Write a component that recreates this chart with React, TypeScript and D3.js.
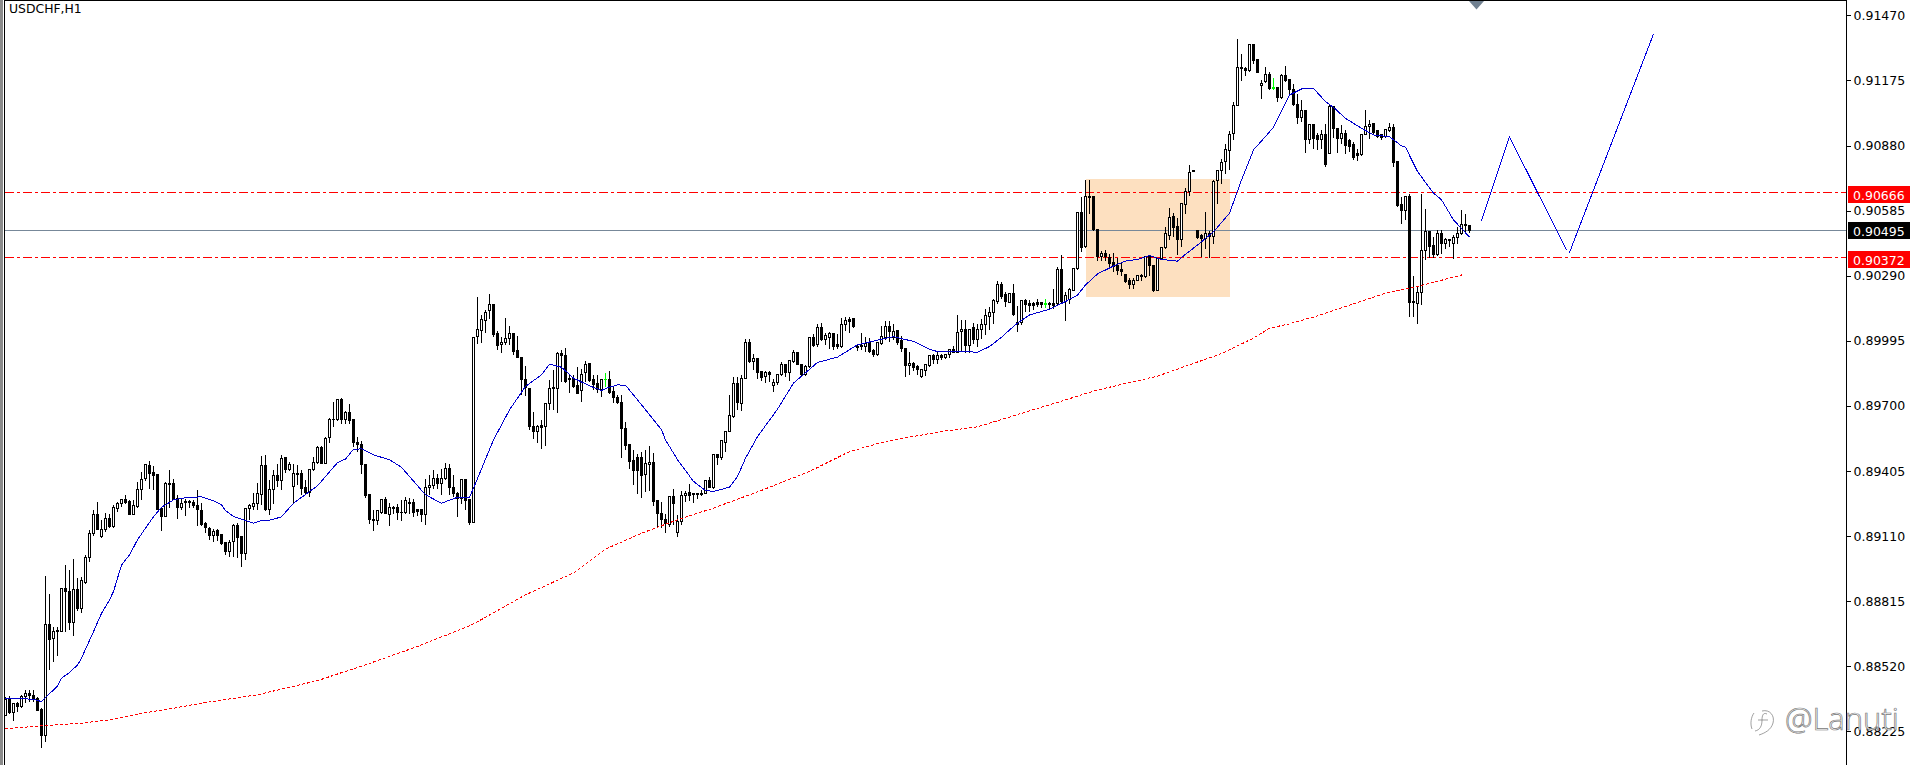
import React, { useEffect, useRef } from 'react'
import * as d3 from 'd3'

// prices are kept in points: 88297 means 0.88297
const opens = [
  88297,88374,88311,88353,88338,88383,88398,88389,88375,88323,
  88206,88711,88646,88677,88677,88874,88859,88718,88866,88780,
  88902,89014,89120,89210,89108,89141,89191,89153,89236,89256,
  89274,89266,89207,89244,89322,89369,89432,89398,89387,89236,
  89198,89349,89349,89281,89239,89266,89266,89263,89247,89225,
  89166,89146,89111,89134,89116,89081,89040,89086,89157,89108,
  89033,89235,89244,89256,89300,89428,89232,89320,89383,89360,
  89466,89410,89335,89395,89392,89332,89308,89410,89444,89513,
  89440,89557,89637,89637,89727,89637,89672,89637,89536,89524,
  89433,89300,89187,89181,89217,89274,89208,89235,89241,89219,
  89217,89264,89262,89229,89229,89206,89330,89338,89370,89347,
  89371,89418,89332,89305,89282,89365,89274,89172,90014,90042,
  90087,90131,90158,90026,89978,89987,90005,90026,89949,89921,
  89821,89780,89607,89584,89610,89607,89712,89785,89780,89936,
  89930,89818,89826,89791,89770,89851,89891,89818,89800,89773,
  89818,89818,89765,89740,89717,89599,89524,89453,89468,89468,
  89388,89436,89445,89270,89214,89187,89161,89290,89127,89176,
  89293,89309,89302,89302,89302,89305,89362,89332,89478,89466,
  89534,89584,89652,89803,89712,89826,89989,89901,89913,89854,
  89833,89853,89791,89806,89844,89889,89853,89901,89940,89889,
  89841,89878,90008,89977,90057,89999,90010,90026,89977,89969,
  90069,90090,90094,89969,89972,89969,89987,89949,89931,89983,
  90011,90061,90011,90040,89996,89962,89883,89894,89878,89833,
  89860,89882,89927,89912,89927,89919,89931,89957,89943,90037,
  90048,89972,90055,90002,90048,90067,90105,90125,90173,90248,
  90203,90170,90211,90070,90078,90176,90162,90162,90168,90167,
  90162,90162,90165,90165,90320,90172,90180,90225,90323,90577,
  90421,90651,90651,90501,90376,90391,90372,90350,90334,90316,
  90296,90267,90248,90267,90289,90286,90376,90338,90225,90369,
  90418,90474,90557,90512,90456,90613,90671,90767,90497,90471,
  90459,90482,90467,90720,90766,90807,90857,90933,91062,91235,
  91230,91219,91336,91268,91153,91170,91200,91142,91144,91097,
  91195,91177,91135,91068,91007,91037,90908,90973,90925,90905,
  90928,90845,91056,90958,90911,90936,90901,90883,90845,90837,
  90931,90966,90978,90946,90928,90920,90948,90961,90807,90611,
  90585,90649,90172,90165,90215,90403,90489,90425,90384,90480,
  90437,90452,90437,90464,90483,90523,90519,
]
const highs = [
  88383,88386,88353,88360,88394,88413,88413,88413,88383,88335,
  88930,88848,88700,88700,88874,88982,88957,89010,88924,88927,
  89028,89138,89229,89269,89183,89218,89213,89251,89269,89281,
  89297,89274,89278,89357,89402,89440,89451,89432,89390,89236,
  89357,89413,89372,89300,89281,89281,89277,89274,89319,89264,
  89176,89154,89146,89146,89116,89081,89096,89169,89172,89108,
  89237,89256,89309,89353,89475,89478,89365,89410,89440,89478,
  89471,89448,89440,89436,89410,89365,89418,89471,89521,89519,
  89561,89647,89720,89735,89739,89679,89712,89637,89561,89542,
  89433,89300,89229,89226,89282,89289,89262,89247,89256,89274,
  89289,89285,89282,89237,89237,89373,89388,89413,89395,89418,
  89445,89440,89388,89312,89368,89368,89278,90014,90196,90113,
  90138,90208,90158,90040,90014,90102,90063,90029,90017,89921,
  89882,89780,89675,89614,89637,89717,89818,89866,89946,89954,
  89966,89841,89841,89878,89871,89904,89894,89844,89841,89826,
  89851,89859,89788,89750,89753,89629,89531,89501,89486,89493,
  89501,89519,89489,89278,89267,89214,89293,89327,89207,89317,
  89317,89350,89308,89308,89323,89365,89380,89483,89486,89546,
  89587,89750,89833,89833,89841,90007,90007,89936,89916,89854,
  89860,89860,89826,89848,89901,89894,89909,89954,89946,89894,
  89886,90011,90029,90075,90078,90033,90037,90033,90029,90100,
  90105,90105,90094,89977,90033,90014,90011,89962,89992,90063,
  90085,90087,90072,90045,90017,89962,89946,89901,89889,89871,
  89891,89931,89939,89946,89936,89936,89957,89972,90112,90090,
  90090,90052,90078,90075,90097,90143,90150,90188,90266,90263,
  90218,90214,90256,90153,90180,90185,90183,90173,90188,90173,
  90185,90173,90233,90331,90388,90218,90236,90328,90580,90651,
  90728,90728,90651,90504,90406,90409,90391,90394,90373,90349,
  90296,90282,90281,90290,90301,90379,90388,90343,90373,90421,
  90512,90598,90577,90554,90618,90690,90794,90767,90500,90479,
  90583,90494,90728,90772,90822,90890,90948,91079,91363,91295,
  91238,91343,91336,91268,91180,91238,91215,91189,91147,91207,
  91241,91182,91159,91114,91087,91041,90981,90973,90939,90951,
  90978,91064,91059,90961,90976,90954,90913,90898,90868,90933,
  91041,90999,90981,90954,90936,90958,90984,90981,90807,90649,
  90652,90661,90289,90244,90661,90596,90489,90467,90501,90498,
  90464,90460,90475,90513,90588,90570,90519,
]
const lows = [
  88297,88304,88274,88315,88335,88356,88360,88360,88320,88152,
  88179,88507,88542,88569,88677,88677,88685,88658,88773,88764,
  88896,88993,89111,89140,89105,89130,89150,89150,89221,89244,
  89256,89207,89207,89241,89278,89364,89324,89322,89229,89135,
  89198,89241,89278,89188,89229,89203,89241,89239,89156,89158,
  89126,89096,89086,89090,89072,89025,89018,89018,89015,88972,
  89003,89187,89229,89232,89252,89226,89206,89256,89335,89320,
  89398,89407,89262,89342,89297,89297,89289,89407,89440,89440,
  89437,89534,89607,89634,89622,89622,89622,89516,89493,89392,
  89286,89169,89135,89161,89214,89211,89158,89211,89184,89181,
  89214,89214,89199,89202,89176,89161,89297,89327,89327,89297,
  89365,89297,89289,89199,89259,89229,89161,89172,89984,89987,
  90033,90097,90014,89957,89942,89977,89980,89931,89919,89750,
  89747,89592,89554,89534,89507,89521,89682,89685,89670,89811,
  89806,89761,89785,89755,89720,89811,89811,89773,89761,89743,
  89788,89755,89715,89709,89468,89501,89418,89345,89305,89287,
  89312,89317,89247,89151,89151,89127,89154,89161,89108,89161,
  89267,89271,89262,89282,89293,89302,89332,89327,89433,89456,
  89493,89584,89649,89685,89679,89823,89898,89863,89826,89815,
  89806,89811,89765,89795,89838,89833,89815,89898,89886,89836,
  89836,89875,89969,89969,89996,89977,89962,89957,89962,89966,
  90042,90033,90057,89951,89954,89946,89943,89924,89927,89980,
  89999,89992,89999,89977,89946,89833,89841,89860,89841,89830,
  89836,89878,89894,89894,89909,89916,89921,89943,89943,89946,
  89943,89943,89981,89969,90007,90022,90044,90075,90165,90188,
  90150,90168,90108,90037,90067,90128,90128,90135,90150,90147,
  90147,90143,90143,90160,90165,90087,90165,90222,90320,90399,
  90418,90572,90497,90361,90361,90361,90326,90308,90295,90293,
  90258,90233,90233,90266,90267,90282,90293,90218,90222,90369,
  90415,90456,90467,90387,90421,90572,90655,90760,90459,90379,
  90414,90373,90437,90618,90709,90754,90769,90905,91059,91174,
  91195,91215,91253,91210,91091,91167,91132,91132,91079,91093,
  91170,91105,91062,90981,90988,90848,90887,90865,90860,90868,
  90785,90842,90916,90850,90887,90845,90853,90815,90812,90834,
  90928,90913,90936,90917,90905,90917,90943,90785,90603,90525,
  90543,90105,90105,90075,90158,90365,90374,90374,90381,90392,
  90412,90422,90368,90437,90475,90490,90486,
]
const closes = [
  88368,88311,88353,88338,88383,88398,88388,88371,88320,88206,
  88711,88643,88679,88680,88874,88859,88718,88866,88780,88907,
  89014,89123,89210,89140,89141,89191,89153,89241,89256,89274,
  89262,89207,89247,89319,89368,89435,89395,89384,89229,89198,
  89349,89345,89278,89239,89259,89262,89260,89248,89232,89164,
  89148,89111,89132,89111,89075,89040,89081,89157,89105,89033,
  89237,89247,89259,89302,89428,89229,89323,89383,89360,89463,
  89410,89433,89392,89388,89327,89308,89413,89445,89511,89440,
  89554,89637,89640,89727,89637,89672,89632,89536,89524,89433,
  89293,89187,89181,89226,89274,89211,89241,89240,89219,89216,
  89271,89256,89217,89222,89206,89332,89339,89370,89347,89373,
  89418,89332,89302,89282,89365,89271,89172,90011,90045,90093,
  90125,90161,90022,89972,89989,90007,90029,89946,89919,89818,
  89783,89607,89584,89605,89602,89712,89780,89777,89936,89928,
  89811,89826,89788,89758,89844,89889,89815,89795,89773,89818,
  89819,89761,89738,89715,89599,89521,89448,89407,89407,89383,
  89438,89445,89267,89211,89184,89166,89290,89259,89176,89293,
  89305,89294,89297,89300,89300,89362,89332,89478,89468,89542,
  89584,89655,89803,89715,89826,89989,89901,89913,89851,89830,
  89853,89844,89806,89844,89889,89851,89904,89943,89889,89844,
  89878,90008,89972,90057,89999,90017,90026,89969,89969,90070,
  90085,90082,90060,89963,89968,89984,89946,89931,89987,90014,
  90061,90037,90037,89987,89960,89882,89894,89875,89866,89863,
  89886,89927,89909,89927,89919,89931,89957,89943,90034,90048,
  89972,90048,90002,90048,90067,90108,90125,90176,90248,90195,
  90173,90211,90112,90078,90176,90161,90156,90155,90161,90161,
  90159,90159,90155,90320,90172,90202,90228,90323,90577,90418,
  90651,90643,90501,90376,90391,90376,90346,90331,90313,90308,
  90263,90248,90270,90289,90286,90376,90334,90225,90369,90418,
  90482,90554,90507,90455,90615,90671,90758,90760,90464,90459,
  90482,90467,90719,90766,90803,90863,90931,91062,91235,91229,
  91219,91336,91265,91212,91162,91200,91139,91139,91097,91195,
  91174,91132,91068,91007,91037,90908,90973,90913,90905,90928,
  90792,91056,90958,90913,90936,90878,90875,90825,90833,90928,
  90966,90976,90940,90920,90917,90951,90961,90803,90608,90585,
  90649,90169,90169,90215,90403,90489,90422,90384,90480,90437,
  90452,90448,90464,90483,90523,90517,90495,
]
const greenBars = [150, 260, 317]

const fastBars = [0,7,9,13,14,16,18,19,22,24,26,27,29,31,33,35,37,39,42,45,49,52,54,55,57,60,62,64,66,69,70,72,76,78,83,85,87,89,92,96,99,101,105,109,113,116,117,122,126,130,134,136,139,142,146,149,151,153,155,159,161,164,165,168,172,175,177,181,183,185,188,193,197,203,208,213,219,222,227,231,233,240,243,246,249,251,253,256,261,265,268,270,273,277,280,283,286,289,293,295,298,302,306,309,312,315,317,321,324,327,330,332,335,339,342,346,349,350,353,357,359,362,366]
const fastValues = [88375,88371,88360,88431,88466,88492,88526,88557,88677,88760,88821,88859,88979,89025,89093,89146,89198,89241,89274,89284,89288,89270,89252,89226,89199,89181,89169,89181,89182,89197,89218,89259,89312,89338,89443,89459,89504,89505,89478,89456,89422,89380,89297,89259,89286,89287,89327,89546,89682,89788,89841,89889,89875,89826,89791,89770,89785,89795,89794,89705,89660,89592,89546,89456,89358,89317,89312,89332,89380,89463,89561,89685,89803,89897,89921,89977,90002,90014,89992,89957,89946,89946,89943,89969,90011,90044,90075,90112,90138,90173,90202,90248,90298,90334,90356,90364,90381,90364,90356,90387,90429,90489,90573,90724,90860,90921,90963,91109,91136,91139,91079,91053,91003,90958,90928,90920,90878,90872,90762,90664,90634,90543,90465]

const slowBars = [0,9,19,27,34,42,49,63,78,91,103,116,119,130,142,150,159,168,177,189,201,211,220,234,243,273,288,304,312,316,321,328,337,345,353,360,365]
const slowValues = [88237,88250,88262,88280,88307,88330,88353,88391,88455,88533,88610,88703,88732,88844,88943,89051,89123,89184,89237,89317,89403,89493,89539,89584,89605,89772,89835,89937,90007,90052,90072,90108,90162,90211,90241,90274,90298]

// hand drawn projection in two strokes, the bars run on past the last candle
const trendDownBars = [369, 376, 390.25]
const trendDownValues = [90539, 90919, 90407]
const trendUpBars = [391, 412]
const trendUpValues = [90395, 91385]

const zoneBars = [270, 306]
const zoneValues = [90728, 90193]

const levelValues = [90666, 90372]
const bidValue = 90495
const tickValues = [91470,91175,90880,90585,90290,89995,89700,89405,89110,88815,88520,88225]

export default function App() {
  const svgRef = useRef<SVGSVGElement>(null)

  useEffect(() => {
    if (!svgRef.current) return
    const svg = d3.select(svgRef.current)
    svg.selectAll('*').remove()

    const width = 1913
    const height = 765
    const plotLeft = 4
    const plotRight = 1846

    const x = d3.scaleLinear().domain([0, 412]).range([5.5, 1653.5])
    const y = d3.scaleLinear().domain([91470, 88225]).range([15.3, 731.4])
    const py = (v: number) => Math.floor(y(v)) + 0.5

    svg.append('rect').attr('width', width).attr('height', height).attr('fill', 'white')

    // left window edge and frame
    svg.append('rect').attr('x', 0).attr('y', 0).attr('width', 3).attr('height', height).attr('fill', '#8c8c8c')
    svg.append('g').attr('shape-rendering', 'crispEdges').call((g) => {
      g.append('line').attr('x1', plotLeft + 0.5).attr('x2', plotLeft + 0.5).attr('y1', 0).attr('y2', height).attr('stroke', 'black')
      g.append('line').attr('x1', plotLeft).attr('x2', plotRight).attr('y1', 0.5).attr('y2', 0.5).attr('stroke', 'black')
    })

    svg.append('rect')
      .attr('x', Math.round(x(zoneBars[0])))
      .attr('width', Math.round(x(zoneBars[1]) - x(zoneBars[0])))
      .attr('y', Math.round(y(zoneValues[0])))
      .attr('height', Math.round(y(zoneValues[1]) - y(zoneValues[0])))
      .attr('fill', '#fde0c0')

    // horizontal levels
    const levels = svg.append('g').attr('shape-rendering', 'crispEdges')
    levels.selectAll('line.level')
      .data(levelValues)
      .join('line')
      .attr('class', 'level')
      .attr('x1', plotLeft + 1)
      .attr('x2', plotRight)
      .attr('y1', (d) => py(d))
      .attr('y2', (d) => py(d))
      .attr('stroke', '#ff0000')
      .attr('stroke-dasharray', '9 3 3 3')
    levels.append('line')
      .attr('x1', plotLeft + 1)
      .attr('x2', plotRight)
      .attr('y1', py(bidValue))
      .attr('y2', py(bidValue))
      .attr('stroke', '#778899')

    // candles
    const candles = svg.append('g').attr('shape-rendering', 'crispEdges')
    const bars = d3.range(opens.length)
    const barColor = (i: number) => (greenBars.includes(i) ? '#00ff00' : 'black')
    const isFlat = (i: number) => py(opens[i]) === py(closes[i])
    candles.selectAll('line.wick')
      .data(bars)
      .join('line')
      .attr('class', 'wick')
      .attr('x1', (i) => x(i))
      .attr('x2', (i) => x(i))
      .attr('y1', (i) => py(highs[i]))
      .attr('y2', (i) => py(lows[i]))
      .attr('stroke', barColor)
    candles.selectAll('rect.body')
      .data(bars.filter((i) => !isFlat(i)))
      .join('rect')
      .attr('class', 'body')
      .attr('x', (i) => x(i) - 1)
      .attr('width', 2)
      .attr('y', (i) => py(Math.max(opens[i], closes[i])))
      .attr('height', (i) => py(Math.min(opens[i], closes[i])) - py(Math.max(opens[i], closes[i])))
      .attr('fill', (i) => (closes[i] > opens[i] ? 'white' : 'black'))
      .attr('stroke', barColor)
    candles.selectAll('line.flat')
      .data(bars.filter(isFlat))
      .join('line')
      .attr('class', 'flat')
      .attr('x1', (i) => x(i) - 1.5)
      .attr('x2', (i) => x(i) + 1.5)
      .attr('y1', (i) => py(closes[i]))
      .attr('y2', (i) => py(closes[i]))
      .attr('stroke', barColor)

    // moving averages and the projection
    const priceLine = d3.line<number[]>().x((d) => x(d[0])).y((d) => y(d[1]))
    const pairs = (a: number[], b: number[]) => a.map((v, i) => [v, b[i]])
    svg.append('path')
      .attr('d', priceLine(pairs(slowBars, slowValues)))
      .attr('fill', 'none')
      .attr('stroke', '#ff0000')
      .attr('stroke-dasharray', '3 2')
      .attr('shape-rendering', 'crispEdges')
    svg.append('path')
      .attr('d', priceLine(pairs(fastBars, fastValues)))
      .attr('fill', 'none')
      .attr('stroke', '#0000cd')
      .attr('shape-rendering', 'crispEdges')
    svg.append('g').selectAll('path')
      .data([pairs(trendDownBars, trendDownValues), pairs(trendUpBars, trendUpValues)])
      .join('path')
      .attr('d', (d) => priceLine(d))
      .attr('fill', 'none')
      .attr('stroke', '#0000e0')
      .attr('shape-rendering', 'crispEdges')

    // price axis
    const axis = svg.append('g')
      .attr('transform', `translate(${plotRight + 0.5},0)`)
      .call(
        d3.axisRight(y)
          .tickValues(tickValues)
          .tickSize(4)
          .tickPadding(3)
          .tickFormat((d) => (+d / 100000).toFixed(5))
      )
    axis.select('.domain').remove()
    axis.selectAll('.tick line').attr('stroke', 'black').attr('shape-rendering', 'crispEdges')
    axis.selectAll('.tick text')
      .attr('fill', 'black')
      .attr('x', 7)
      .style('font-family', '"DejaVu Sans"')
      .style('font-size', '12.5px')
    svg.append('line')
      .attr('x1', plotRight + 0.5)
      .attr('x2', plotRight + 0.5)
      .attr('y1', 0)
      .attr('y2', height)
      .attr('stroke', 'black')
      .attr('shape-rendering', 'crispEdges')

    // price tags, the terminal draws the level tags a little below their line
    const tags = [
      { v: levelValues[0], color: '#ff0000', shift: 3 },
      { v: bidValue, color: '#000000', shift: 1 },
      { v: levelValues[1], color: '#ff0000', shift: 3 },
    ]
    const tag = svg.append('g').selectAll('g').data(tags).join('g')
      .attr('transform', (d) => `translate(${plotRight + 2},${Math.floor(y(d.v)) + d.shift})`)
    tag.append('rect')
      .attr('x', 0)
      .attr('y', -9)
      .attr('width', 62)
      .attr('height', 17)
      .attr('fill', (d) => d.color)
    tag.append('text')
      .attr('x', 5)
      .attr('y', 0)
      .attr('dy', '0.36em')
      .attr('fill', 'white')
      .style('font-family', '"DejaVu Sans"')
      .style('font-size', '12.5px')
      .text((d) => (d.v / 100000).toFixed(5))

    // title
    svg.append('text')
      .attr('x', 9)
      .attr('y', 13)
      .attr('fill', 'black')
      .style('font-family', '"DejaVu Sans"')
      .style('font-size', '12.4px')
      .text('USDCHF,H1')

    // shift marker on the top edge
    svg.append('path')
      .attr('d', 'M1469,1L1484,1L1476.5,9.5Z')
      .attr('fill', '#708090')

    // watermark
    const mark = svg.append('g').attr('fill', 'white').attr('stroke', '#777').attr('stroke-width', 0.7)
    mark.append('path')
      .attr('d', 'M1762,711C1770,709 1775,716 1773,723C1771,730 1765,733 1759,735M1767,714C1763,712 1762,716 1762,720C1762,726 1760,730 1755,731M1758,720L1768,720M1754,713C1751,717 1750,724 1752,729')
      .attr('fill', 'none')
    mark.append('text')
      .attr('x', 1785)
      .attr('y', 730)
      .style('font-family', '"Open Sans"')
      .style('font-size', '31px')
      .style('font-weight', 300)
      .text('@Lanuti')
  }, [])

  return (
    <svg
      ref={svgRef}
      width={1913}
      height={765}
      style={{ position: 'absolute', left: 0, top: 0, display: 'block' }}
    />
  )
}
